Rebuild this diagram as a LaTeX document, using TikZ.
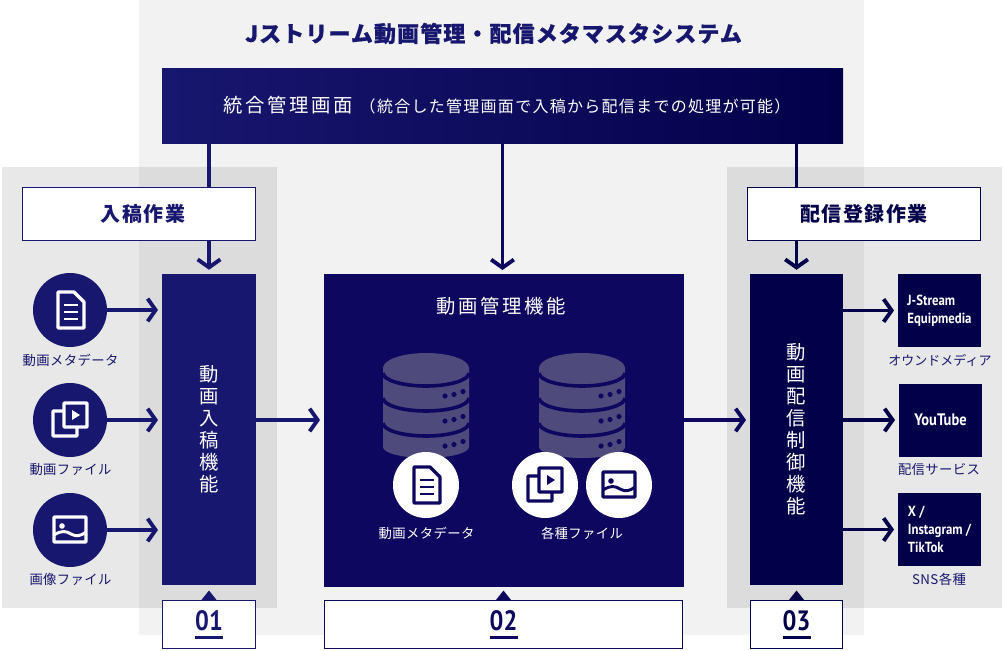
\documentclass[tikz,border=0pt]{standalone}
\usepackage{fontspec}
\setmainfont{Noto Sans CJK JP}
\newfontfamily\latinfont[FakeStretch=.87]{PT Sans}
\usetikzlibrary{arrows.meta}
\definecolor{navyleft}{HTML}{18176F}
\definecolor{navymid}{HTML}{0E0760}
\definecolor{navyright}{HTML}{03004A}
\definecolor{dbgrey}{HTML}{4F4A7C}
\definecolor{pagegrey}{HTML}{F2F2F2}
\newcommand{\wide}[1]{\addfontfeature{LetterSpace=#1}}
\tikzset{
  every node/.style={inner sep=0pt,outer sep=0pt},
  flow/.style={line width=2.9pt,-{Straight Barb[length=6pt,width=17pt,line width=2.9pt]},shorten >=3pt},
  plain/.style={line width=2.9pt},
  solidbox/.style={text=white,font=\fontsize{14.5}{16.5}\selectfont,align=center},
  headtext/.style={font=\fontsize{14.5}{16}\selectfont\wide{14}},
  taskbox/.style={draw=#1,fill=white,line width=.9pt,text=#1,minimum width=174.8pt,minimum height=39.8pt,font=\fontsize{15}{16}\selectfont\bfseries\wide{8}},
  numbox/.style={draw=#1,fill=white,line width=.8pt,text=#1,minimum height=36pt,align=center,font=\fontsize{21}{6.4}\selectfont\latinfont\bfseries},
  iconcirc/.style={circle,fill=navyleft,minimum size=55.5pt},
  whitecirc/.style={circle,fill=white,minimum size=49.5pt},
  caption/.style={font=\fontsize{10}{12}\selectfont\wide{3}},
  target/.style={fill=navyright,text=white,minimum width=62.25pt,minimum height=54.75pt,align=left,font=\fontsize{11}{13.5}\selectfont\latinfont\bfseries},
  pics/docicon/.style 2 args={code={
    \draw[draw=#1,fill=#2,line width=2.5pt,line join=round] (-12,-18)--(4,-18)--(14,-8)--(14,18)--(-12,18)--cycle;
    \draw[draw=#1,line width=2.2pt] (-6,-5)--(8,-5) (-6,2)--(8,2) (-6,9)--(8,9);
  }},
  pics/videoicon/.style 2 args={code={
    \draw[draw=#1,fill=#2,line width=2.5pt,rounded corners=.6pt] (-17,-9) rectangle (7,16);
    \draw[draw=#1,fill=#2,line width=2.5pt,rounded corners=.6pt] (-6,-17) rectangle (17,7);
    \fill[#1] (2,-10)--(10,-5)--(2,0)--cycle;
  }},
  pics/imageicon/.style 2 args={code={
    \draw[draw=#1,fill=#2,line width=2.5pt,rounded corners=.6pt] (-16,-13) rectangle (16,12);
    \fill[#1] (-8,-4) circle (2.8);
    \draw[draw=#1,line width=2.2pt] (-16,5) .. controls (-8,0) and (-4,1) .. (1,4) .. controls (6,7) and (11,6) .. (16,2);
  }},
  pics/dbstack/.style={code={
    \fill[dbgrey] (-43,-5) arc (180:360:43 and 15) -- (43,74) arc (0:180:43 and 11) -- cycle;
    \foreach \yy in {0,25,50}{
      \draw[navymid,line width=2.7pt] (-43,\yy) arc (180:0:43 and 13);
      \foreach \dx/\dy in {19/23,28/21.5,37/18.5}
        \fill[navymid] (\dx,\yy+\dy) circle (2.6);
    }
  }}
}
\begin{document}
\begin{tikzpicture}[x=.75pt,y=-.75pt]
  \useasboundingbox (0,0) rectangle (1003,650);
  % backgrounds
  \fill[white] (0,0) rectangle (1003,650);
  \fill[pagegrey] (139,0) rectangle (864,635);
  \fill[black,opacity=.09] (2,167) rectangle (277,608);
  \fill[black,opacity=.09] (727,167) rectangle (1002,608);
  % title and top bar
  \node[text=navyleft,font=\fontsize{16.5}{18}\selectfont\bfseries\addfontfeature{FakeBold=.6}\wide{5}] (title) at (493.5,33.5) {Jストリーム動画管理・配信メタマスタシステム};
  \node[left color=navyleft,right color=navyright,minimum width=510.75pt,minimum height=56.25pt] (topbar) at (502.5,105.5) {};
  \node[text=white] (toptext) at (507,105) {{\fontsize{14.5}{16}\selectfont\wide{14}統合管理画面}\hspace{5pt}{\fontsize{12}{14}\selectfont\wide{8}（統合した管理画面で入稿から配信までの処理が可能）}};
  % three columns
  \node[taskbox=navyleft] (uploadtask) at (139,214) {\hspace*{6pt}\raisebox{-1pt}{入稿作業}};
  \node[taskbox=navyright] (delivertask) at (864,214) {\raisebox{-1pt}{配信登録作業}};
  \node[solidbox,fill=navyleft,minimum width=70.5pt,minimum height=233.6pt] (inputbox) at (209,429.5) {動\\画\\入\\稿\\機\\能};
  \node[fill=navymid,minimum width=270pt,minimum height=234.75pt] (managebox) at (504,430.5) {};
  \node[solidbox,fill=navyright,minimum width=69.75pt,minimum height=233.6pt] (outputbox) at (796.5,429.5) {動\\画\\配\\信\\制\\御\\機\\能};
  \node[text=white,headtext] (managetext) at (501,306) {動画管理機能};
  % number boxes
  \node[numbox=navyleft,minimum width=70pt] (numa) at (209,624.5) {01\\\rule{21pt}{2.3pt}};
  \node[numbox=navymid,minimum width=268.5pt] (numb) at (503.5,624.5) {02\\\rule{21pt}{2.3pt}};
  \node[numbox=navyright,minimum width=69pt] (numc) at (796.5,624.5) {03\\\rule{21pt}{2.3pt}};
  \fill[navyleft] (numa.north) ++(-8,0) -- ++(8,-10) -- ++(8,10) -- cycle;
  \fill[navymid] (numb.north) ++(-8,0) -- ++(8,-10) -- ++(8,10) -- cycle;
  \fill[navyright] (numc.north) ++(-8,0) -- ++(8,-10) -- ++(8,10) -- cycle;
  % left inputs
  \node[iconcirc] (metacirc) at (70,310) {};
  \node[iconcirc] (videocirc) at (70,420) {};
  \node[iconcirc] (imagecirc) at (70,530) {};
  \path (70,310) pic {docicon={white}{navyleft}};
  \path (70,420) pic {videoicon={white}{navyleft}};
  \path (70,530) pic {imageicon={white}{navyleft}};
  \node[caption,text=navyleft] (metalabel) at (70.5,360.5) {動画メタデータ};
  \node[caption,text=navyleft] (videolabel) at (70.5,469.5) {動画ファイル};
  \node[caption,text=navyleft] (imagelabel) at (70.5,579.5) {画像ファイル};
  % database stacks
  \path (426,373) pic {dbstack};
  \path (582,373) pic {dbstack};
  \node[whitecirc] (wmeta) at (426,485) {};
  \node[whitecirc] (wvideo) at (545,485) {};
  \node[whitecirc] (wimage) at (619,485) {};
  \path (426,485) pic {docicon={navymid}{white}};
  \path (545,485) pic {videoicon={navymid}{white}};
  \path (619,485) pic {imageicon={navymid}{white}};
  \node[caption,text=white] (dbmeta) at (426.5,533.5) {動画メタデータ};
  \node[caption,text=white] (dbfiles) at (582,533.5) {各種ファイル};
  % right outputs
  \node[target] (equip) at (939.5,310.5) {J-Stream\\Equipmedia};
  \node[target] (youtube) at (940.5,420) {{\fontsize{12.5}{14}\selectfont YouTube}};
  \node[target] (social) at (939.5,529.5) {X /\\Instagram /\\TikTok};
  \node[caption,text=navyleft,font=\fontsize{9.75}{12}\selectfont] (equiplabel) at (940,360.5) {オウンドメディア};
  \node[caption,text=navyleft] (tubelabel) at (939,469.5) {配信サービス};
  \node[caption,text=navyleft] (snslabel) at (939,579.5) {SNS各種};
  % connectors
  \draw[plain,navyleft] (inputbox |- topbar.south) -- (inputbox |- uploadtask.north);
  \draw[flow,navyleft] (inputbox |- uploadtask.south) -- (inputbox.north);
  \draw[flow,navymid] (topbar.south) -- (topbar.south |- managebox.north);
  \draw[plain,navyright] (outputbox |- topbar.south) -- (outputbox |- delivertask.north);
  \draw[flow,navyright] (outputbox |- delivertask.south) -- (outputbox.north);
  \draw[flow,navyleft] (metacirc.east) -- (metacirc -| inputbox.west);
  \draw[flow,navyleft] (videocirc.east) -- (videocirc -| inputbox.west);
  \draw[flow,navyleft] (imagecirc.east) -- (imagecirc -| inputbox.west);
  \draw[flow,navyleft] (videocirc -| inputbox.east) -- (videocirc -| managebox.west);
  \draw[flow,navymid] (videocirc -| managebox.east) -- (videocirc -| outputbox.west);
  \draw[flow,navyright] (equip -| outputbox.east) -- (equip.west);
  \draw[flow,navyright] (youtube -| outputbox.east) -- (youtube.west);
  \draw[flow,navyright] (social -| outputbox.east) -- (social.west);
\end{tikzpicture}
\end{document}
